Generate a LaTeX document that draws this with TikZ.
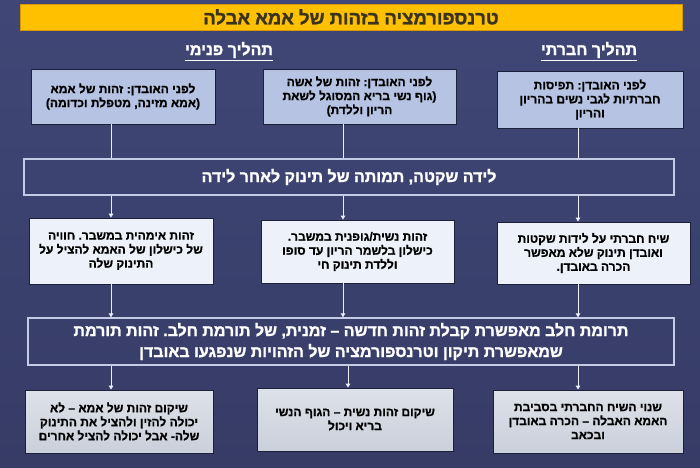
\documentclass[tikz,border=0pt]{standalone}
\usepackage{fontspec}
\usetikzlibrary{arrows.meta}
\newfontfamily\hebfont[Script=Hebrew, FakeBold=1]{Liberation Sans}
\newfontfamily\hebheavy[Script=Hebrew, FakeBold=1.5]{Liberation Sans}
\TeXXeTstate=1
\frenchspacing
\newcommand{\rline}[1]{\leavevmode\hbox{\beginR #1\endR}}

\definecolor{bgtop}{RGB}{64,71,118}
\definecolor{bgbot}{RGB}{54,60,102}
\definecolor{titlefill}{RGB}{255,192,0}
\definecolor{titleline}{RGB}{214,150,0}
\definecolor{titletext}{RGB}{58,52,30}
\definecolor{topfill}{RGB}{182,195,227}
\definecolor{midfill}{RGB}{237,241,249}
\definecolor{lowtop}{RGB}{221,225,233}
\definecolor{lowbot}{RGB}{202,208,219}
\definecolor{boxline}{RGB}{28,32,56}
\definecolor{barline}{RGB}{196,203,228}
\definecolor{wire}{RGB}{236,238,246}

\begin{document}
\begin{tikzpicture}[x=1pt, y=-1pt,
  every node/.style={font=\hebfont\bfseries\fontsize{12}{14}\selectfont, align=center, inner sep=2pt},
  topbox/.style={draw=boxline, line width=0.8pt, fill=topfill, text=black},
  midbox/.style={draw=boxline, line width=0.8pt, fill=midfill, text=black},
  lowbox/.style={draw=boxline, line width=0.8pt, top color=lowtop, bottom color=lowbot, text=black},
  bar/.style={draw=barline, line width=1.2pt, text=white, font=\hebheavy\bfseries\fontsize{16}{21}\selectfont},
  head/.style={text=white, inner sep=0pt, font=\hebheavy\bfseries\fontsize{16}{18}\selectfont},
  wire/.style={draw=wire, line width=1pt},
  arrow/.style={wire, -{Triangle[length=4pt, width=4.5pt]}}]

  % Background
  \shade[top color=bgtop, bottom color=bgbot] (0,0) rectangle (700,467);
  \useasboundingbox (0,0) rectangle (700,467);

  % Title and headings
  \node (T) at (351,17) [draw=titleline, line width=0.8pt, fill=titlefill, text=titletext,
    minimum width=662pt, minimum height=26pt, font=\hebheavy\bfseries\fontsize{18.5}{20}\selectfont]
    {\rline{טרנספורמציה בזהות של אמא אבלה}};
  \node (H1) at (229,50) [head] {\rline{תהליך פנימי}};
  \node (H2) at (589,50) [head] {\rline{תהליך חברתי}};
  \draw[white, line width=1pt] ([yshift=-2.5pt]H1.south west) -- ([yshift=-2.5pt]H1.south east);
  \draw[white, line width=1pt] ([yshift=-2.5pt]H2.south west) -- ([yshift=-2.5pt]H2.south east);

  % Column lines
  \coordinate (k1) at (111,0);
  \coordinate (k2) at (343,0);
  \coordinate (k3) at (578,0);
  \coordinate (k4) at (348,0);

  % Before the loss
  \node (A1) at (123,96.5) [topbox, minimum width=184pt, minimum height=55pt]
    {\rline{לפני האובדן: זהות של אמא}\\ \rline{(אמא מזינה, מטפלת וכדומה)}};
  \node (A2) at (359.5,96.5) [topbox, minimum width=193pt, minimum height=55pt]
    {\rline{לפני האובדן: זהות של אשה}\\ \rline{(גוף נשי בריא המסוגל לשאת}\\ \rline{הריון וללדת)}};
  \node (A3) at (590,99.5) [topbox, minimum width=186pt, minimum height=57pt]
    {\rline{לפני האובדן: תפיסות}\\ \rline{חברתיות לגבי נשים בהריון}\\ \rline{והריון}};

  % Loss
  \node (L) at (349,177) [bar, minimum width=650pt, minimum height=36pt]
    {\rline{לידה שקטה, תמותה של תינוק לאחר לידה}};

  % Crisis
  \node (B1) at (121,251) [midbox, minimum width=184pt, minimum height=66pt]
    {\rline{זהות אימהית במשבר. חוויה}\\ \rline{של כישלון של האמא להציל על}\\ \rline{התינוק שלה}};
  \node (B2) at (357.5,251.5) [midbox, minimum width=193pt, minimum height=63pt]
    {\rline{זהות נשית/גופנית במשבר.}\\ \rline{כישלון בלשמר הריון עד סופו}\\ \rline{וללדת תינוק חי}};
  \node (B3) at (593.5,253) [midbox, minimum width=193pt, minimum height=62pt]
    {\rline{שיח חברתי על לידות שקטות}\\ \rline{ואובדן תינוק שלא מאפשר}\\ \rline{הכרה באובדן.}};

  % Milk donation
  \node (M) at (351,341.5) [bar, minimum width=646pt, minimum height=47pt]
    {\rline{תרומת חלב מאפשרת קבלת זהות חדשה – זמנית, של תורמת חלב. זהות תורמת}\\
     \rline{שמאפשרת תיקון וטרנספורמציה של הזהויות שנפגעו באובדן}};

  % Repair
  \node (C1) at (119,421.5) [lowbox, minimum width=188pt, minimum height=63pt]
    {\rline{שיקום זהות של אמא – לא}\\ \rline{יכולה להזין ולהציל את התינוק}\\ \rline{שלה- אבל יכולה להציל אחרים}};
  \node (C2) at (355,419.5) [lowbox, minimum width=196pt, minimum height=63pt]
    {\rline{שיקום זהות נשית – הגוף הנשי}\\ \rline{בריא ויכול}};
  \node (C3) at (588,421.5) [lowbox, minimum width=190pt, minimum height=63pt]
    {\rline{שנוי השיח החברתי בסביבת}\\ \rline{האמא האבלה – הכרה באובדן}\\ \rline{ובכאב}};

  % Edges
  \draw[wire] (A1.south -| k1) -- (L.north -| k1);
  \draw[wire] (A2.south -| k2) -- (L.north -| k2);
  \draw[wire] (A3.south -| k3) -- (L.north -| k3);
  \draw[arrow] (L.south -| k1) -- (B1.north -| k1);
  \draw[arrow] (L.south -| k2) -- (B2.north -| k2);
  \draw[arrow] (L.south -| k3) -- (B3.north -| k3);
  \draw[arrow] (B1.south -| k1) -- (M.north -| k1);
  \draw[arrow] (B2.south -| k2) -- (M.north -| k2);
  \draw[arrow] (B3.south -| k3) -- (M.north -| k3);
  \draw[arrow] (M.south -| k1) -- (C1.north -| k1);
  \draw[arrow] (M.south -| k4) -- (C2.north -| k4);
  \draw[arrow] (M.south -| k3) -- (C3.north -| k3);
\end{tikzpicture}
\end{document}
